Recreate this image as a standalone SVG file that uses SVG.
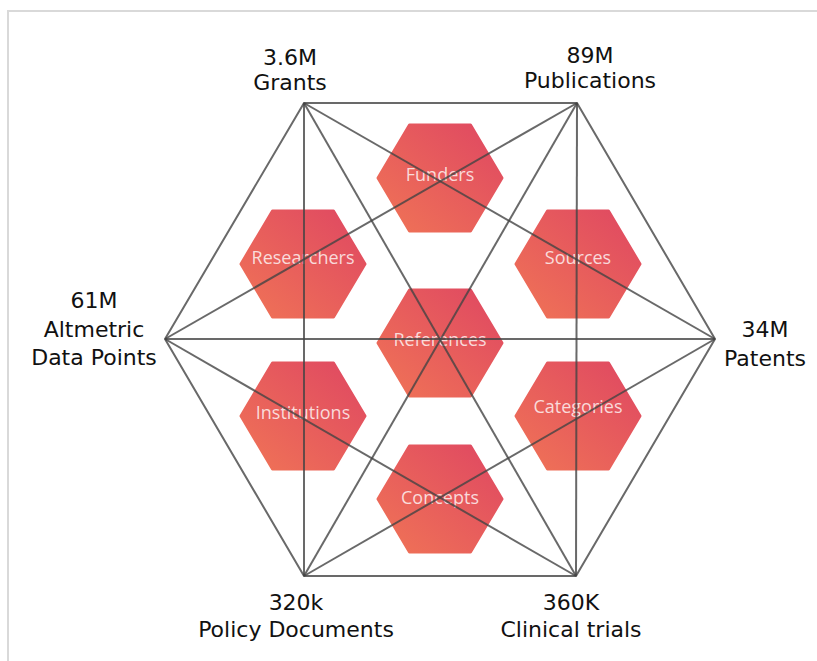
<svg xmlns="http://www.w3.org/2000/svg" xmlns:xlink="http://www.w3.org/1999/xlink" width="817" height="661" viewBox="0 0 817 661">
<style>
.lbl{font-family:"DejaVu Sans","Verdana",sans-serif;font-size:22px;fill:#111;text-anchor:middle}
.hl{font-family:"Open Sans","Lato",sans-serif;font-size:18px;fill:#fff;fill-opacity:0.78;text-anchor:middle}
.edge{stroke:#444;stroke-width:2;stroke-opacity:0.8;fill:none}
</style>
<defs>
<linearGradient id="g" x1="0" y1="1" x2="1" y2="0">
<stop offset="0" stop-color="#f07456"/>
<stop offset="1" stop-color="#df4762"/>
</linearGradient>
<path id="hex" d="M-62,0 L-30.5,-53 L30.5,-53 L62,0 L30.5,53 L-30.5,53 Z" fill="url(#g)" stroke="url(#g)" stroke-width="3" stroke-linejoin="round"/>
</defs>
<rect width="817" height="661" fill="#fff"/>
<path d="M8,661 V11 H817" stroke="#d9d9d9" stroke-width="2" fill="none"/>
<g id="n-funders"><use xlink:href="#hex" href="#hex" x="440" y="178"/><text class="hl" x="440" y="181">Funders</text></g>
<g id="n-researchers"><use xlink:href="#hex" href="#hex" x="303" y="264"/><text class="hl" x="303" y="264">Researchers</text></g>
<g id="n-sources"><use xlink:href="#hex" href="#hex" x="578" y="264"/><text class="hl" x="578" y="264">Sources</text></g>
<g id="n-references"><use xlink:href="#hex" href="#hex" x="440" y="343"/><text class="hl" x="440" y="346">References</text></g>
<g id="n-institutions"><use xlink:href="#hex" href="#hex" x="303" y="416"/><text class="hl" x="303" y="419">Institutions</text></g>
<g id="n-categories"><use xlink:href="#hex" href="#hex" x="578" y="416"/><text class="hl" x="578" y="413">Categories</text></g>
<g id="n-concepts"><use xlink:href="#hex" href="#hex" x="440" y="499"/><text class="hl" x="440" y="504">Concepts</text></g>
<g id="connectors" class="edge">
<path class="edge" d="M304,103 L577,103 L715,339 L576,576 L304,576 L165,339 Z"/>
<line class="edge" x1="304" y1="103" x2="576" y2="576"/>
<line class="edge" x1="577" y1="103" x2="304" y2="576"/>
<line class="edge" x1="165" y1="339" x2="715" y2="339"/>
<line class="edge" x1="304" y1="103" x2="304" y2="576"/>
<line class="edge" x1="577" y1="103" x2="576" y2="576"/>
<line class="edge" x1="304" y1="103" x2="715" y2="339"/>
<line class="edge" x1="577" y1="103" x2="165" y2="339"/>
<line class="edge" x1="165" y1="339" x2="576" y2="576"/>
<line class="edge" x1="715" y1="339" x2="304" y2="576"/>
</g>
<g id="n-grants"><text class="lbl" x="290" y="65">3.6M</text><text class="lbl" x="290" y="90">Grants</text></g>
<g id="n-publications"><text class="lbl" x="590" y="63">89M</text><text class="lbl" x="590" y="88">Publications</text></g>
<g id="n-altmetric"><text class="lbl" x="94" y="308">61M</text><text class="lbl" x="94" y="337">Altmetric</text><text class="lbl" x="94" y="365">Data Points</text></g>
<g id="n-patents"><text class="lbl" x="765" y="337">34M</text><text class="lbl" x="765" y="366">Patents</text></g>
<g id="n-policy"><text class="lbl" x="296" y="610">320k</text><text class="lbl" x="296" y="637">Policy Documents</text></g>
<g id="n-clinical"><text class="lbl" x="571" y="610">360K</text><text class="lbl" x="571" y="637">Clinical trials</text></g>
</svg>
